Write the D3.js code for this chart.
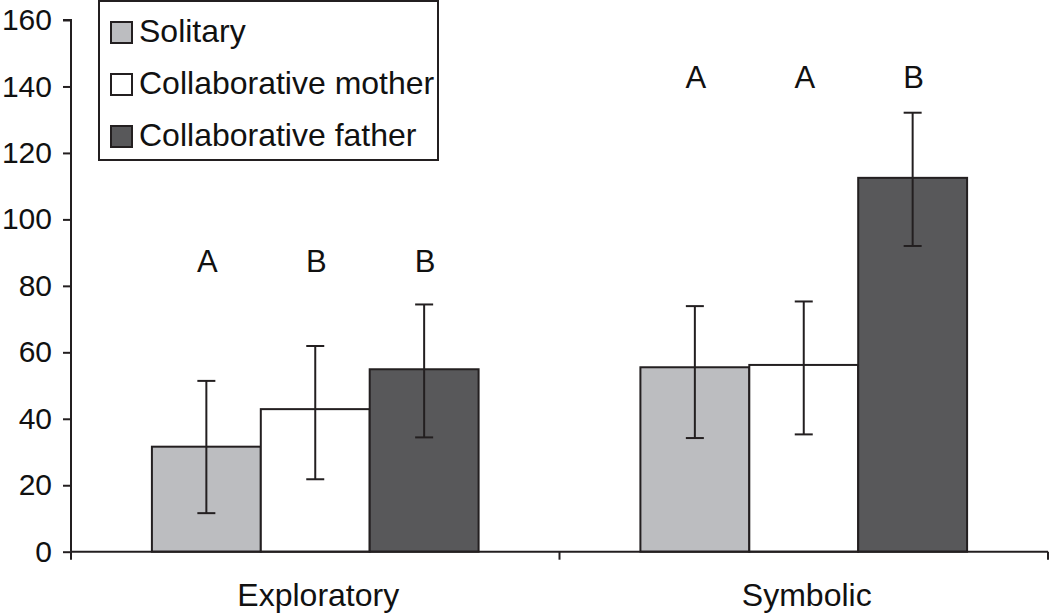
<!DOCTYPE html>
<html>
<head>
    <title>Play type by condition</title>
    <script src="https://d3js.org/d3.v7.min.js"></script>
    <style>
        body { margin: 0; background: #fff; }
        svg { display: block; font-family: "Liberation Sans", Arial, Helvetica, sans-serif; }
    </style>
</head>
<body>
    <svg id="chart" width="1050" height="616"></svg>
    <script>
        // data
        const categories = ['Exploratory', 'Symbolic'];
        const series = ['Solitary', 'Collaborative mother', 'Collaborative father'];
        const colors = ['#bcbdc0', '#ffffff', '#58585a'];
        const means = [
            [31.6, 42.9, 54.9],
            [55.5, 56.2, 112.5]
        ];
        const errHigh = [
            [51.4, 61.9, 74.4],
            [73.9, 75.3, 132.1]
        ];
        const errLow = [
            [11.6, 21.8, 34.4],
            [34.2, 35.3, 92.0]
        ];
        const letters = [
            ['A', 'B', 'B'],
            ['A', 'A', 'B']
        ];
        const letterLevel = [84.2, 139.4];
        const yTicks = [0, 20, 40, 60, 80, 100, 120, 140, 160];

        const ink = '#231f20';
        const svg = d3.select('#chart');

        const x0 = d3.scaleBand().domain(categories).range([71, 1048]);
        const x1 = d3.scaleBand().domain(series).range([0, x0.bandwidth()])
            .paddingInner(0).paddingOuter(0.743);
        const y = d3.scaleLinear().domain([0, 160]).range([551.7, 20]);

        // y axis
        const yAxis = svg.append('g')
            .attr('transform', 'translate(71,0)')
            .call(d3.axisLeft(y).tickValues(yTicks).tickSize(8).tickPadding(11));
        yAxis.select('.domain').attr('stroke', ink).attr('stroke-width', 2)
            .attr('d', `M-8,${y(160)}H0V${y(0)}`);
        yAxis.selectAll('.tick line').attr('stroke', ink).attr('stroke-width', 2);
        yAxis.selectAll('.tick text')
            .attr('fill', '#111')
            .style('font-size', '30px')
            .style('font-family', '"Liberation Sans", Arial, sans-serif');

        // groups of bars
        const groups = svg.selectAll('g.group')
            .data(categories)
            .join('g')
            .attr('class', 'group')
            .attr('transform', d => `translate(${x0(d)},0)`);

        groups.each(function (cat, ci) {
            const g = d3.select(this);
            series.forEach((s, si) => {
                const v = means[ci][si];
                const cx = x1(s) + x1.bandwidth() / 2;
                g.append('rect')
                    .attr('x', x1(s))
                    .attr('y', y(v))
                    .attr('width', x1.bandwidth())
                    .attr('height', y(0) - y(v))
                    .attr('fill', colors[si])
                    .attr('stroke', ink)
                    .attr('stroke-width', 2);

                // error bar
                g.append('line')
                    .attr('x1', cx).attr('x2', cx)
                    .attr('y1', y(errLow[ci][si])).attr('y2', y(errHigh[ci][si]))
                    .attr('stroke', ink).attr('stroke-width', 2);
                [errLow[ci][si], errHigh[ci][si]].forEach(t => {
                    g.append('line')
                        .attr('x1', cx - 9).attr('x2', cx + 9)
                        .attr('y1', y(t)).attr('y2', y(t))
                        .attr('stroke', ink).attr('stroke-width', 2);
                });

                // significance letter
                g.append('text')
                    .attr('x', cx + 1)
                    .attr('y', y(letterLevel[ci]))
                    .attr('text-anchor', 'middle')
                    .attr('font-size', '31px')
                    .attr('fill', '#111')
                    .text(letters[ci][si]);
            });
        });

        // x axis
        svg.append('line')
            .attr('x1', 71).attr('x2', 1048)
            .attr('y1', y(0)).attr('y2', y(0))
            .attr('stroke', ink).attr('stroke-width', 2);
        const xEdges = [x0(categories[0]), x0(categories[1]), x0(categories[1]) + x0.bandwidth()];
        xEdges.forEach(px => {
            svg.append('line')
                .attr('x1', px).attr('x2', px)
                .attr('y1', y(0)).attr('y2', y(0) + 8)
                .attr('stroke', ink).attr('stroke-width', 2);
        });
        svg.selectAll('text.cat')
            .data(categories)
            .join('text')
            .attr('class', 'cat')
            .attr('x', d => x0(d) + x0.bandwidth() / 2 + 3)
            .attr('y', 606)
            .attr('text-anchor', 'middle')
            .attr('font-size', '32px')
            .attr('fill', '#111')
            .text(d => d);

        // legend
        const legend = svg.append('g');
        legend.append('rect')
            .attr('x', 99).attr('y', 1)
            .attr('width', 339).attr('height', 159)
            .attr('fill', '#fff')
            .attr('stroke', ink).attr('stroke-width', 2);
        series.forEach((s, i) => {
            const ry = 22 + i * 52;
            legend.append('rect')
                .attr('x', 111).attr('y', ry)
                .attr('width', 21).attr('height', 21)
                .attr('fill', colors[i])
                .attr('stroke', ink).attr('stroke-width', 2);
            legend.append('text')
                .attr('x', 139).attr('y', ry + 20)
                .attr('font-size', '32px')
                .attr('fill', '#111')
                .text(s);
        });
    </script>
</body>
</html>
